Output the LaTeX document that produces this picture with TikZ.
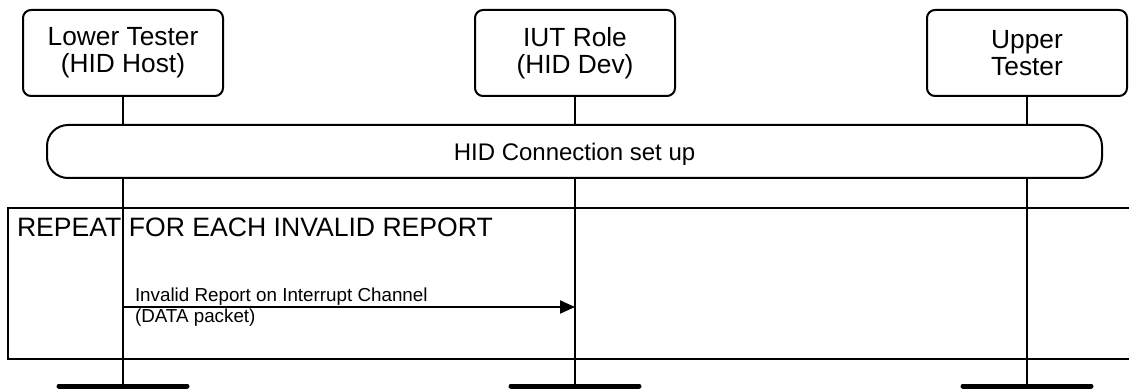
\documentclass[tikz,border=0pt]{standalone}
\usepackage{fontspec}
\setmainfont{Liberation Sans}
\usetikzlibrary{arrows.meta,positioning}

\begin{document}
\begin{tikzpicture}[x=1pt, y=-1pt, line width=2pt, >={Triangle[length=15pt, width=13pt]},
    role/.style={draw, rounded corners=8pt, minimum width=200pt, minimum height=86pt,
      inner sep=0pt, align=center, font=\fontsize{26.3}{27}\selectfont},
    phase/.style={draw, fill=white, rounded corners=21pt, minimum width=1055pt,
      minimum height=53pt, inner sep=0pt, text depth=0pt, font=\fontsize{24}{28}\selectfont},
    lifeline/.style={line width=2pt},
    bar/.style={line width=5pt, line cap=round},
    msglabel/.style={inner sep=0pt, font=\fontsize{18.8}{20}\selectfont}]
  \useasboundingbox (0,0) rectangle (1129,390);
  % --- roles ---
  \node[role] (lower) at (123,53) {Lower Tester\\(HID Host)};
  \node[role] (iut)   at (575,53) {IUT Role\\(HID Dev)};
  \node[role] (upper) at (1027,53) {Upper\\Tester};
  % --- lifeline ends ---
  \coordinate (lower end) at (123,386);
  \coordinate (iut end)   at (575,386);
  \coordinate (upper end) at (1027,386);
  \foreach \r in {lower, iut, upper} {
    \draw[lifeline] (\r.south) -- (\r\space end);
    \draw[bar] ([xshift=-64pt]\r\space end) -- ([xshift=64pt]\r\space end);
  }
  % --- connection set up ---
  \node[phase] (setup) at (574.5,151.5) {HID Connection set up};
  % --- repeat frame, open to the right ---
  \coordinate (frame nw) at (8,208);
  \coordinate (frame se) at (1140,359);
  \draw (frame nw) rectangle (frame se);
  \node[anchor=base west, inner sep=0pt, font=\fontsize{26.6}{30}\selectfont]
    (repeat) at (16,236) {REPEAT FOR EACH INVALID REPORT};
  % --- invalid report ---
  \coordinate (msg from) at (123,307);
  \coordinate (msg to)   at (575,307);
  \draw[->] (msg from) -- (msg to);
  \node[msglabel, anchor=base west] (msg top) at (134,301) {Invalid Report on Interrupt Channel};
  \node[msglabel, anchor=base west] (msg bot) at (134,322) {(DATA packet)};
\end{tikzpicture}
\end{document}
